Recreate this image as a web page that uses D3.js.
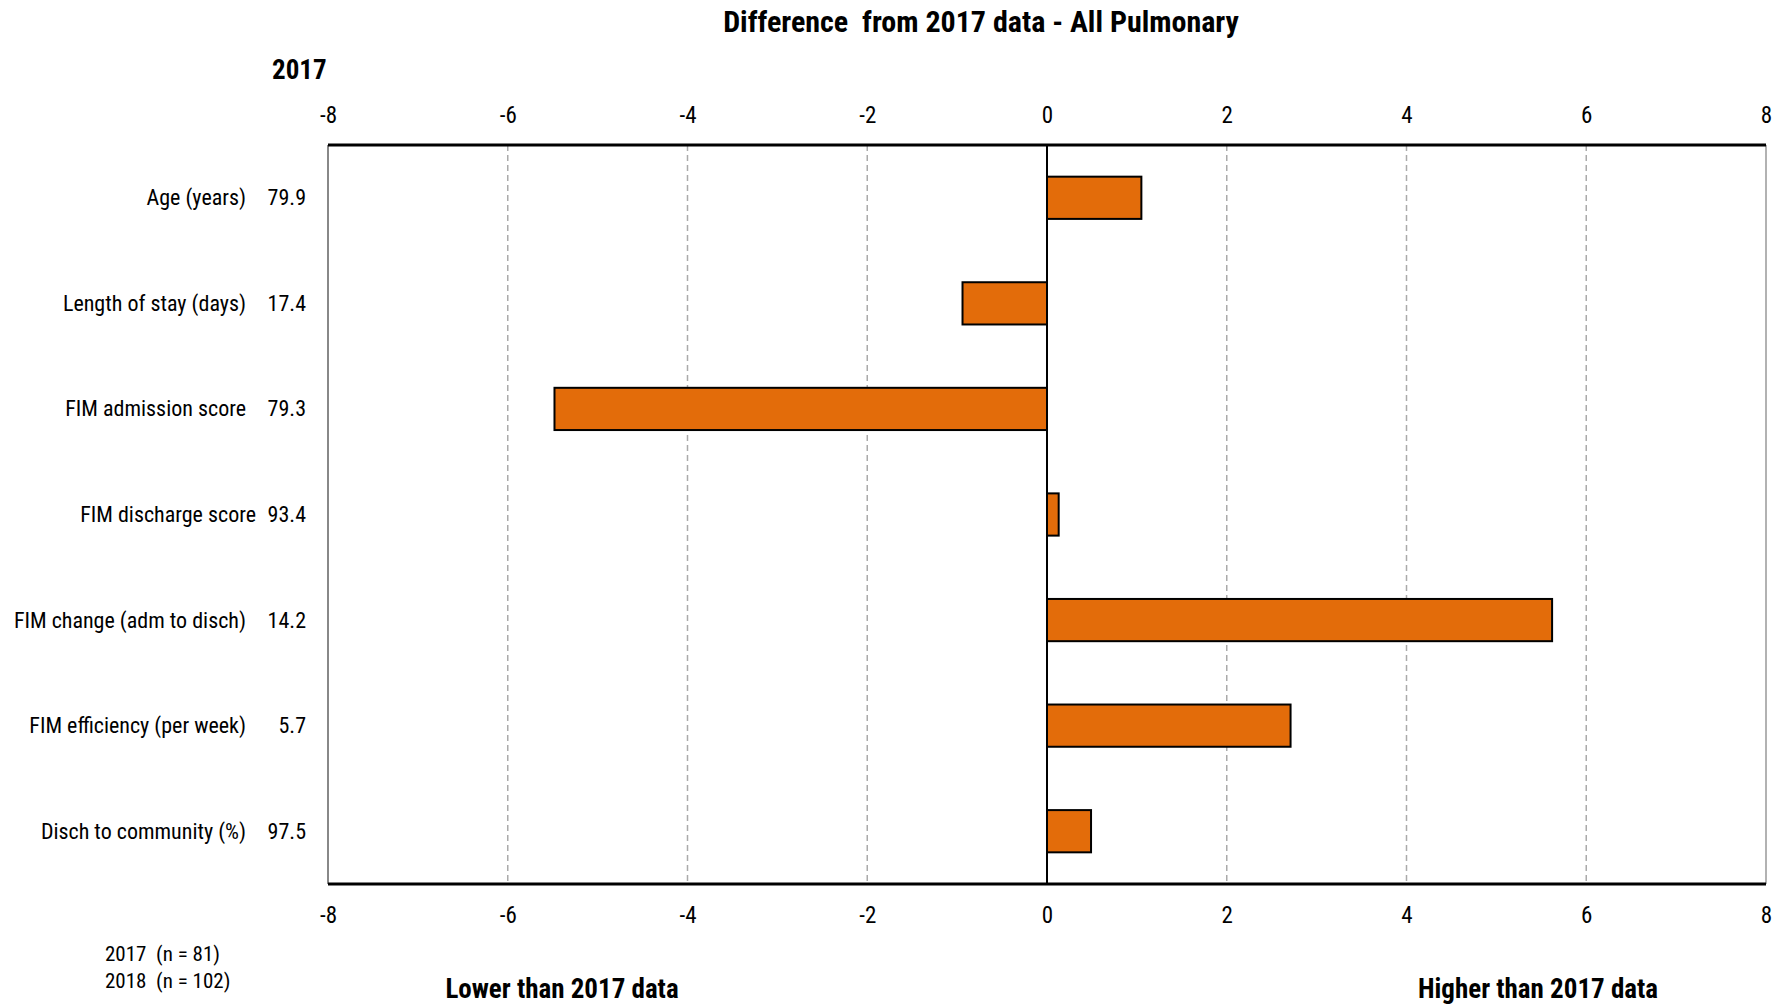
<!DOCTYPE html>
<html><head><meta charset="utf-8">
<script src="https://cdn.jsdelivr.net/npm/d3@7"></script>
<style>
body{margin:0;background:#fff}
svg text{font-family:'Liberation Sans Narrow','Arial Narrow','Roboto Condensed',sans-serif;fill:#000}
</style>
</head><body>
<svg id="chart" width="1791" height="1008"></svg>
<script>
const categories = ["Age (years)","Length of stay (days)","FIM admission score","FIM discharge score","FIM change (adm to disch)","FIM efficiency (per week)","Disch to community (%)"];
const values2017 = ["79.9","17.4","79.3","93.4","14.2","5.7","97.5"];
const differences = [1.05,-0.94,-5.48,0.13,5.62,2.71,0.49];
const tickValues = [-8,-6,-4,-2,0,2,4,6,8];
const titleText = "Difference  from 2017 data - All Pulmonary";
const sampleLabels = ["2017  (n = 81)","2018  (n = 102)"];
const directionLabels = ["Lower than 2017 data","Higher than 2017 data"];

(function(){
const FONT = "'Liberation Sans Narrow','Arial Narrow','Roboto Condensed',sans-serif";
const svg = d3.select("#chart");
const L = 328, R = 1766, T = 145, B = 884;
const x = d3.scaleLinear().domain([-8,8]).range([L,R]);
const y = d3.scaleBand().domain(categories).range([T,B]).paddingInner(0.6).paddingOuter(0.3);

// grid lines
svg.append("g").selectAll("line").data(tickValues.filter(v=>v!==0 && Math.abs(v)!==8)).join("line")
  .attr("x1",d=>x(d)).attr("x2",d=>x(d)).attr("y1",T).attr("y2",B)
  .attr("stroke","#aaa").attr("stroke-width",1.5).attr("stroke-dasharray","6,4");

// side borders
svg.append("line").attr("x1",L).attr("x2",L).attr("y1",T).attr("y2",B).attr("stroke","#888").attr("stroke-width",2);
svg.append("line").attr("x1",R).attr("x2",R).attr("y1",T).attr("y2",B).attr("stroke","#999").attr("stroke-width",1.5);

// bars
svg.append("g").selectAll("rect").data(differences).join("rect")
  .attr("x",(d)=>x(Math.min(0,d)))
  .attr("width",d=>Math.abs(x(d)-x(0)))
  .attr("y",(d,i)=>y(categories[i]))
  .attr("height",y.bandwidth())
  .attr("fill","#E36C0A").attr("stroke","#000").attr("stroke-width",2);

// zero line
svg.append("line").attr("x1",x(0)).attr("x2",x(0)).attr("y1",T).attr("y2",B).attr("stroke","#000").attr("stroke-width",2);

// top / bottom borders
svg.append("line").attr("x1",L).attr("x2",R).attr("y1",T).attr("y2",T).attr("stroke","#000").attr("stroke-width",3);
svg.append("line").attr("x1",L).attr("x2",R).attr("y1",B).attr("y2",B).attr("stroke","#000").attr("stroke-width",3);

// axes
const fmt = d => String(d);
const axTop = svg.append("g").attr("transform",`translate(0,${T})`)
  .call(d3.axisTop(x).tickValues(tickValues).tickFormat(fmt).tickSize(0).tickPadding(22));
const axBot = svg.append("g").attr("transform",`translate(0,${B})`)
  .call(d3.axisBottom(x).tickValues(tickValues).tickFormat(fmt).tickSize(0).tickPadding(23));
[axTop,axBot].forEach(g=>{
  g.attr("font-family",null).attr("font-size",null);
  g.select(".domain").remove();
  g.selectAll("text").attr("font-size",23).style("font-family",FONT).attr("fill","#000");
});

// category labels and 2017 values
svg.append("g").selectAll("text").data(categories).join("text")
  .attr("x",(d,i)=> i===3 ? 256 : 246)
  .attr("y",d=>y(d)+y.bandwidth()/2)
  .attr("text-anchor","end").attr("dominant-baseline","central")
  .attr("font-size",22).text(d=>d);
svg.append("g").selectAll("text").data(values2017).join("text")
  .attr("x",306)
  .attr("y",(d,i)=>y(categories[i])+y.bandwidth()/2)
  .attr("text-anchor","end").attr("dominant-baseline","central")
  .attr("font-size",22).text(d=>d);

// title
svg.append("text").attr("x",981).attr("y",21).attr("text-anchor","middle").attr("dominant-baseline","central")
  .attr("font-size",30).attr("font-weight","bold").style("white-space","pre").text(titleText);
svg.append("text").attr("x",272).attr("y",70).attr("dominant-baseline","central")
  .attr("font-size",27).attr("font-weight","bold").text("2017");

// sample sizes
svg.append("g").selectAll("text").data(sampleLabels).join("text")
  .attr("x",105).attr("y",(d,i)=>954+i*27).attr("dominant-baseline","central")
  .attr("font-size",21).style("white-space","pre").text(d=>d);

// direction labels
svg.append("g").selectAll("text").data(directionLabels).join("text")
  .attr("x",(d,i)=>[562,1538][i]).attr("y",989).attr("text-anchor","middle").attr("dominant-baseline","central")
  .attr("font-size",27).attr("font-weight","bold").text(d=>d);
})();
</script>
</body></html>
